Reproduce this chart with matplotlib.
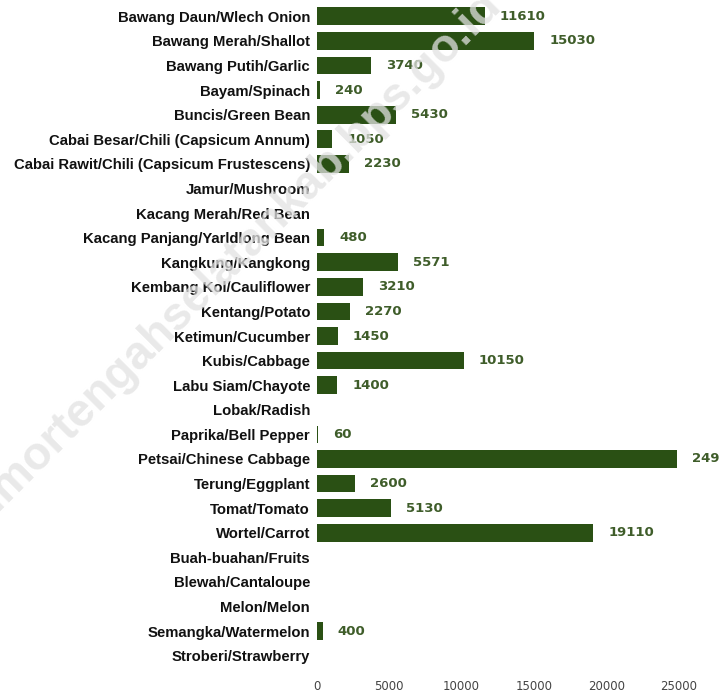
import matplotlib
matplotlib.use('Agg')
import matplotlib.pyplot as plt

# Produksi sayuran / buah (ditampilkan per komoditas)
categories = [
    'Bawang Daun/Wlech Onion', 'Bawang Merah/Shallot', 'Bawang Putih/Garlic',
    'Bayam/Spinach', 'Buncis/Green Bean', 'Cabai Besar/Chili (Capsicum Annum)',
    'Cabai Rawit/Chili (Capsicum Frustescens)', 'Jamur/Mushroom',
    'Kacang Merah/Red Bean', 'Kacang Panjang/Yarldlong Bean', 'Kangkung/Kangkong',
    'Kembang Kol/Cauliflower', 'Kentang/Potato', 'Ketimun/Cucumber',
    'Kubis/Cabbage', 'Labu Siam/Chayote', 'Lobak/Radish', 'Paprika/Bell Pepper',
    'Petsai/Chinese Cabbage', 'Terung/Eggplant', 'Tomat/Tomato', 'Wortel/Carrot',
    'Buah-buahan/Fruits', 'Blewah/Cantaloupe', 'Melon/Melon',
    'Semangka/Watermelon', 'Stroberi/Strawberry',
]
values = [11610, 15030, 3740, 240, 5430, 1050, 2230, None, None, 480, 5571,
          3210, 2270, 1450, 10150, 1400, None, 60, 24900, 2600, 5130, 19110,
          None, None, None, 400, None]
xticks = [0, 5000, 10000, 15000, 20000, 25000]

fig = plt.figure(figsize=(7.2, 6.93), dpi=100)
ax = fig.add_axes([317 / 720, 25 / 693, 361.5 / 720, 664 / 693])

ypos = list(range(len(categories)))
widths = [v if v is not None else 0 for v in values]
ax.barh(ypos, widths, height=0.72, color='#2a5014')

for y, v in zip(ypos, values):
    if v is None:
        continue
    ax.annotate(str(v), xy=(v, y), xytext=(10.8, 0), textcoords='offset points',
                ha='left', va='center', fontsize=9.5, fontweight='bold',
                color='#3f5d2a', family='DejaVu Sans', annotation_clip=False)

ax.set_xlim(0, 25000)
ax.set_ylim(len(categories) - 0.5, -0.5)
ax.set_yticks(ypos)
ax.set_yticklabels(categories, fontsize=10.7, fontweight='bold',
                   family='Liberation Sans', color='#111111')
ax.set_xticks(xticks)
ax.set_xticklabels([str(t) for t in xticks], fontsize=8.5, color='#444444',
                   family='DejaVu Sans')
ax.tick_params(axis='y', length=0, pad=5)
ax.tick_params(axis='x', length=0, pad=9)
for s in ax.spines.values():
    s.set_visible(False)

# watermark
fig.text(0.329, 0.628, 'timortengahselatankab.bps.go.id', rotation=45,
         fontsize=33.5, fontweight='bold', color='#e2e2e2', alpha=0.75,
         ha='center', va='center', family='Liberation Sans', zorder=10)

fig.savefig('out.png', dpi=100)
